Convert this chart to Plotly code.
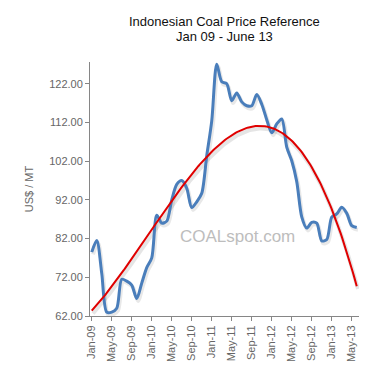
import numpy as np
import plotly.graph_objects as go

months = ["Jan-09","Feb-09","Mar-09","Apr-09","May-09","Jun-09","Jul-09","Aug-09","Sep-09","Oct-09","Nov-09","Dec-09",
          "Jan-10","Feb-10","Mar-10","Apr-10","May-10","Jun-10","Jul-10","Aug-10","Sep-10","Oct-10","Nov-10","Dec-10",
          "Jan-11","Feb-11","Mar-11","Apr-11","May-11","Jun-11","Jul-11","Aug-11","Sep-11","Oct-11","Nov-11","Dec-11",
          "Jan-12","Feb-12","Mar-12","Apr-12","May-12","Jun-12","Jul-12","Aug-12","Sep-12","Oct-12","Nov-12","Dec-12",
          "Jan-13","Feb-13","Mar-13","Apr-13","May-13","Jun-13"]

price = [78.5, 81.5, 73.0, 63.0, 63.0, 64.0, 71.5, 71.0, 70.0, 66.5, 70.5, 74.5,
         77.0, 88.0, 86.0, 86.5, 92.0, 96.0, 97.0, 95.0, 90.0, 91.5, 93.7, 103.4,
         112.4, 127.05, 122.5, 122.0, 117.6, 119.6, 117.3, 116.3, 116.3, 119.2, 116.7, 112.7,
         109.3, 111.6, 112.9, 105.6, 102.1, 96.7, 87.6, 84.7, 86.2, 86.0, 81.4, 81.75,
         87.55, 88.35, 90.09, 88.56, 85.33, 84.87]

tick_labels = ["Jan-09","May-09","Sep-09","Jan-10","May-10","Sep-10","Jan-11","May-11",
               "Sep-11","Jan-12","May-12","Sep-12","Jan-13","May-13"]
y_ticks = [62, 72, 82, 92, 102, 112, 122]

x = np.arange(len(months))
coef = np.polyfit(x, price, 3)
xf = np.linspace(0, len(months) - 1, 200)
trend = np.polyval(coef, xf)

font_fam = "Liberation Sans, Arial, sans-serif"

fig = go.Figure()
# soft shadows
fig.add_trace(go.Scatter(x=x + 0.25, y=np.array(price) - 0.6, mode="lines",
                         line=dict(color="rgba(0,0,0,0.09)", width=4, shape="spline", smoothing=0.8),
                         hoverinfo="skip", showlegend=False))
fig.add_trace(go.Scatter(x=xf + 0.25, y=trend - 0.7, mode="lines",
                         line=dict(color="rgba(0,0,0,0.10)", width=4),
                         hoverinfo="skip", showlegend=False))
fig.add_trace(go.Scatter(x=x, y=price, mode="lines",
                         line=dict(color="#4a7ebb", width=3, shape="spline", smoothing=0.8),
                         showlegend=False))
fig.add_trace(go.Scatter(x=xf, y=trend, mode="lines",
                         line=dict(color="#e00000", width=2),
                         showlegend=False))

fig.add_annotation(text="COALspot.com", x=0.55, y=0.268, xref="paper", yref="paper",
                   showarrow=False, font=dict(family=font_fam, size=17, color="#bdbdbd"))
fig.add_annotation(text="Indonesian Coal Price Reference", x=0.5, xref="paper",
                   y=(316 - 21) / 254, yref="paper", yanchor="middle", showarrow=False,
                   font=dict(family=font_fam, size=13, color="#111111"))
fig.add_annotation(text="Jan 09 - June 13", x=0.5, xref="paper",
                   y=(316 - 37) / 254, yref="paper", yanchor="middle", showarrow=False,
                   font=dict(family=font_fam, size=13, color="#111111"))

fig.update_layout(
    width=376, height=378,
    margin=dict(l=90, r=17, t=62, b=62),
    paper_bgcolor="white", plot_bgcolor="white",
    xaxis=dict(range=[-0.35, 53.45], tickmode="array", automargin=False,
               tickvals=[months.index(t) for t in tick_labels], ticktext=tick_labels,
               tickangle=-90, showgrid=False, zeroline=False,
               showline=True, linecolor="#868686", linewidth=1,
               ticks="outside", ticklen=4, tickcolor="#868686",
               tickfont=dict(family=font_fam, size=11, color="#666666")),
    yaxis=dict(range=[62, 127.6], tickmode="array", tickvals=y_ticks, automargin=False,
               ticktext=["%.2f" % v for v in y_ticks],
               showgrid=False, zeroline=False,
               showline=True, linecolor="#868686", linewidth=1,
               ticks="outside", ticklen=4, tickcolor="#868686",
               tickfont=dict(family=font_fam, size=11, color="#666666"),
               title=dict(text="US$ / MT", standoff=13,
                          font=dict(family=font_fam, size=11, color="#666666"))),
)

fig.write_html("out.html", config={"displayModeBar": False},
               post_script="document.body.style.margin='0';")
